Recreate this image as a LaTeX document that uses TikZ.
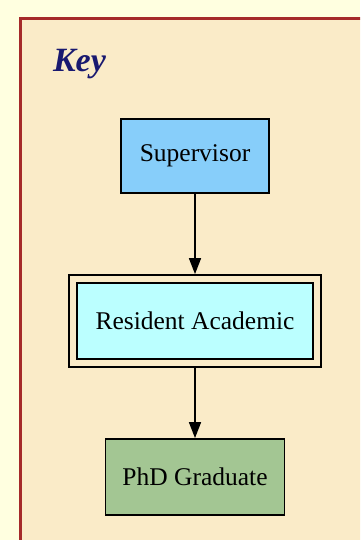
\documentclass[tikz,border=0pt]{standalone}
\usepackage{fontspec}
\setmainfont{Liberation Serif}
\usetikzlibrary{arrows.meta}
\definecolor{bgc}{HTML}{FFFFE0}
\definecolor{clusterfill}{HTML}{FAEBC8}
\definecolor{clusterline}{HTML}{A52A2A}
\definecolor{keyc}{HTML}{191970}
\definecolor{supfill}{HTML}{87CEFA}
\definecolor{resfill}{HTML}{BBFFFF}
\definecolor{phdfill}{HTML}{A3C693}
\tikzset{
  box/.style={draw=black, line width=1.8pt, rectangle, inner sep=0pt,
    font=\fontsize{25.5}{28}\selectfont},
  conn/.style={draw=black, line width=1.6pt, -{Triangle[length=16pt,width=12pt]}},
}
\begin{document}
\begin{tikzpicture}[x=1pt,y=-1pt]
\useasboundingbox (0,0) rectangle (360,540);
\fill[bgc] (0,0) rectangle (360,540);
\begin{scope}
\clip (0,0) rectangle (360,540);
\draw[clusterline, fill=clusterfill, line width=3pt] (20,19) rectangle (400,580);
\end{scope}
\node[anchor=base west, text=keyc, font=\fontsize{34}{38}\selectfont\bfseries\itshape] (key) at (49.5,72) {Key};
\node[box, fill=supfill, minimum width=148pt, minimum height=74pt] (sup) at (195,156) {Supervisor};
\node[box, minimum width=252pt, minimum height=92pt] (resout) at (195,321) {};
\node[box, fill=resfill, line width=2.6pt, minimum width=236pt, minimum height=76pt] (res) at (195,321) {Resident Academic};
\node[box, fill=phdfill, minimum width=179pt, minimum height=76pt] (phd) at (195,477) {PhD Graduate};
\draw[conn] (sup) -- (resout);
\draw[conn] (resout) -- (phd);
\end{tikzpicture}
\end{document}
